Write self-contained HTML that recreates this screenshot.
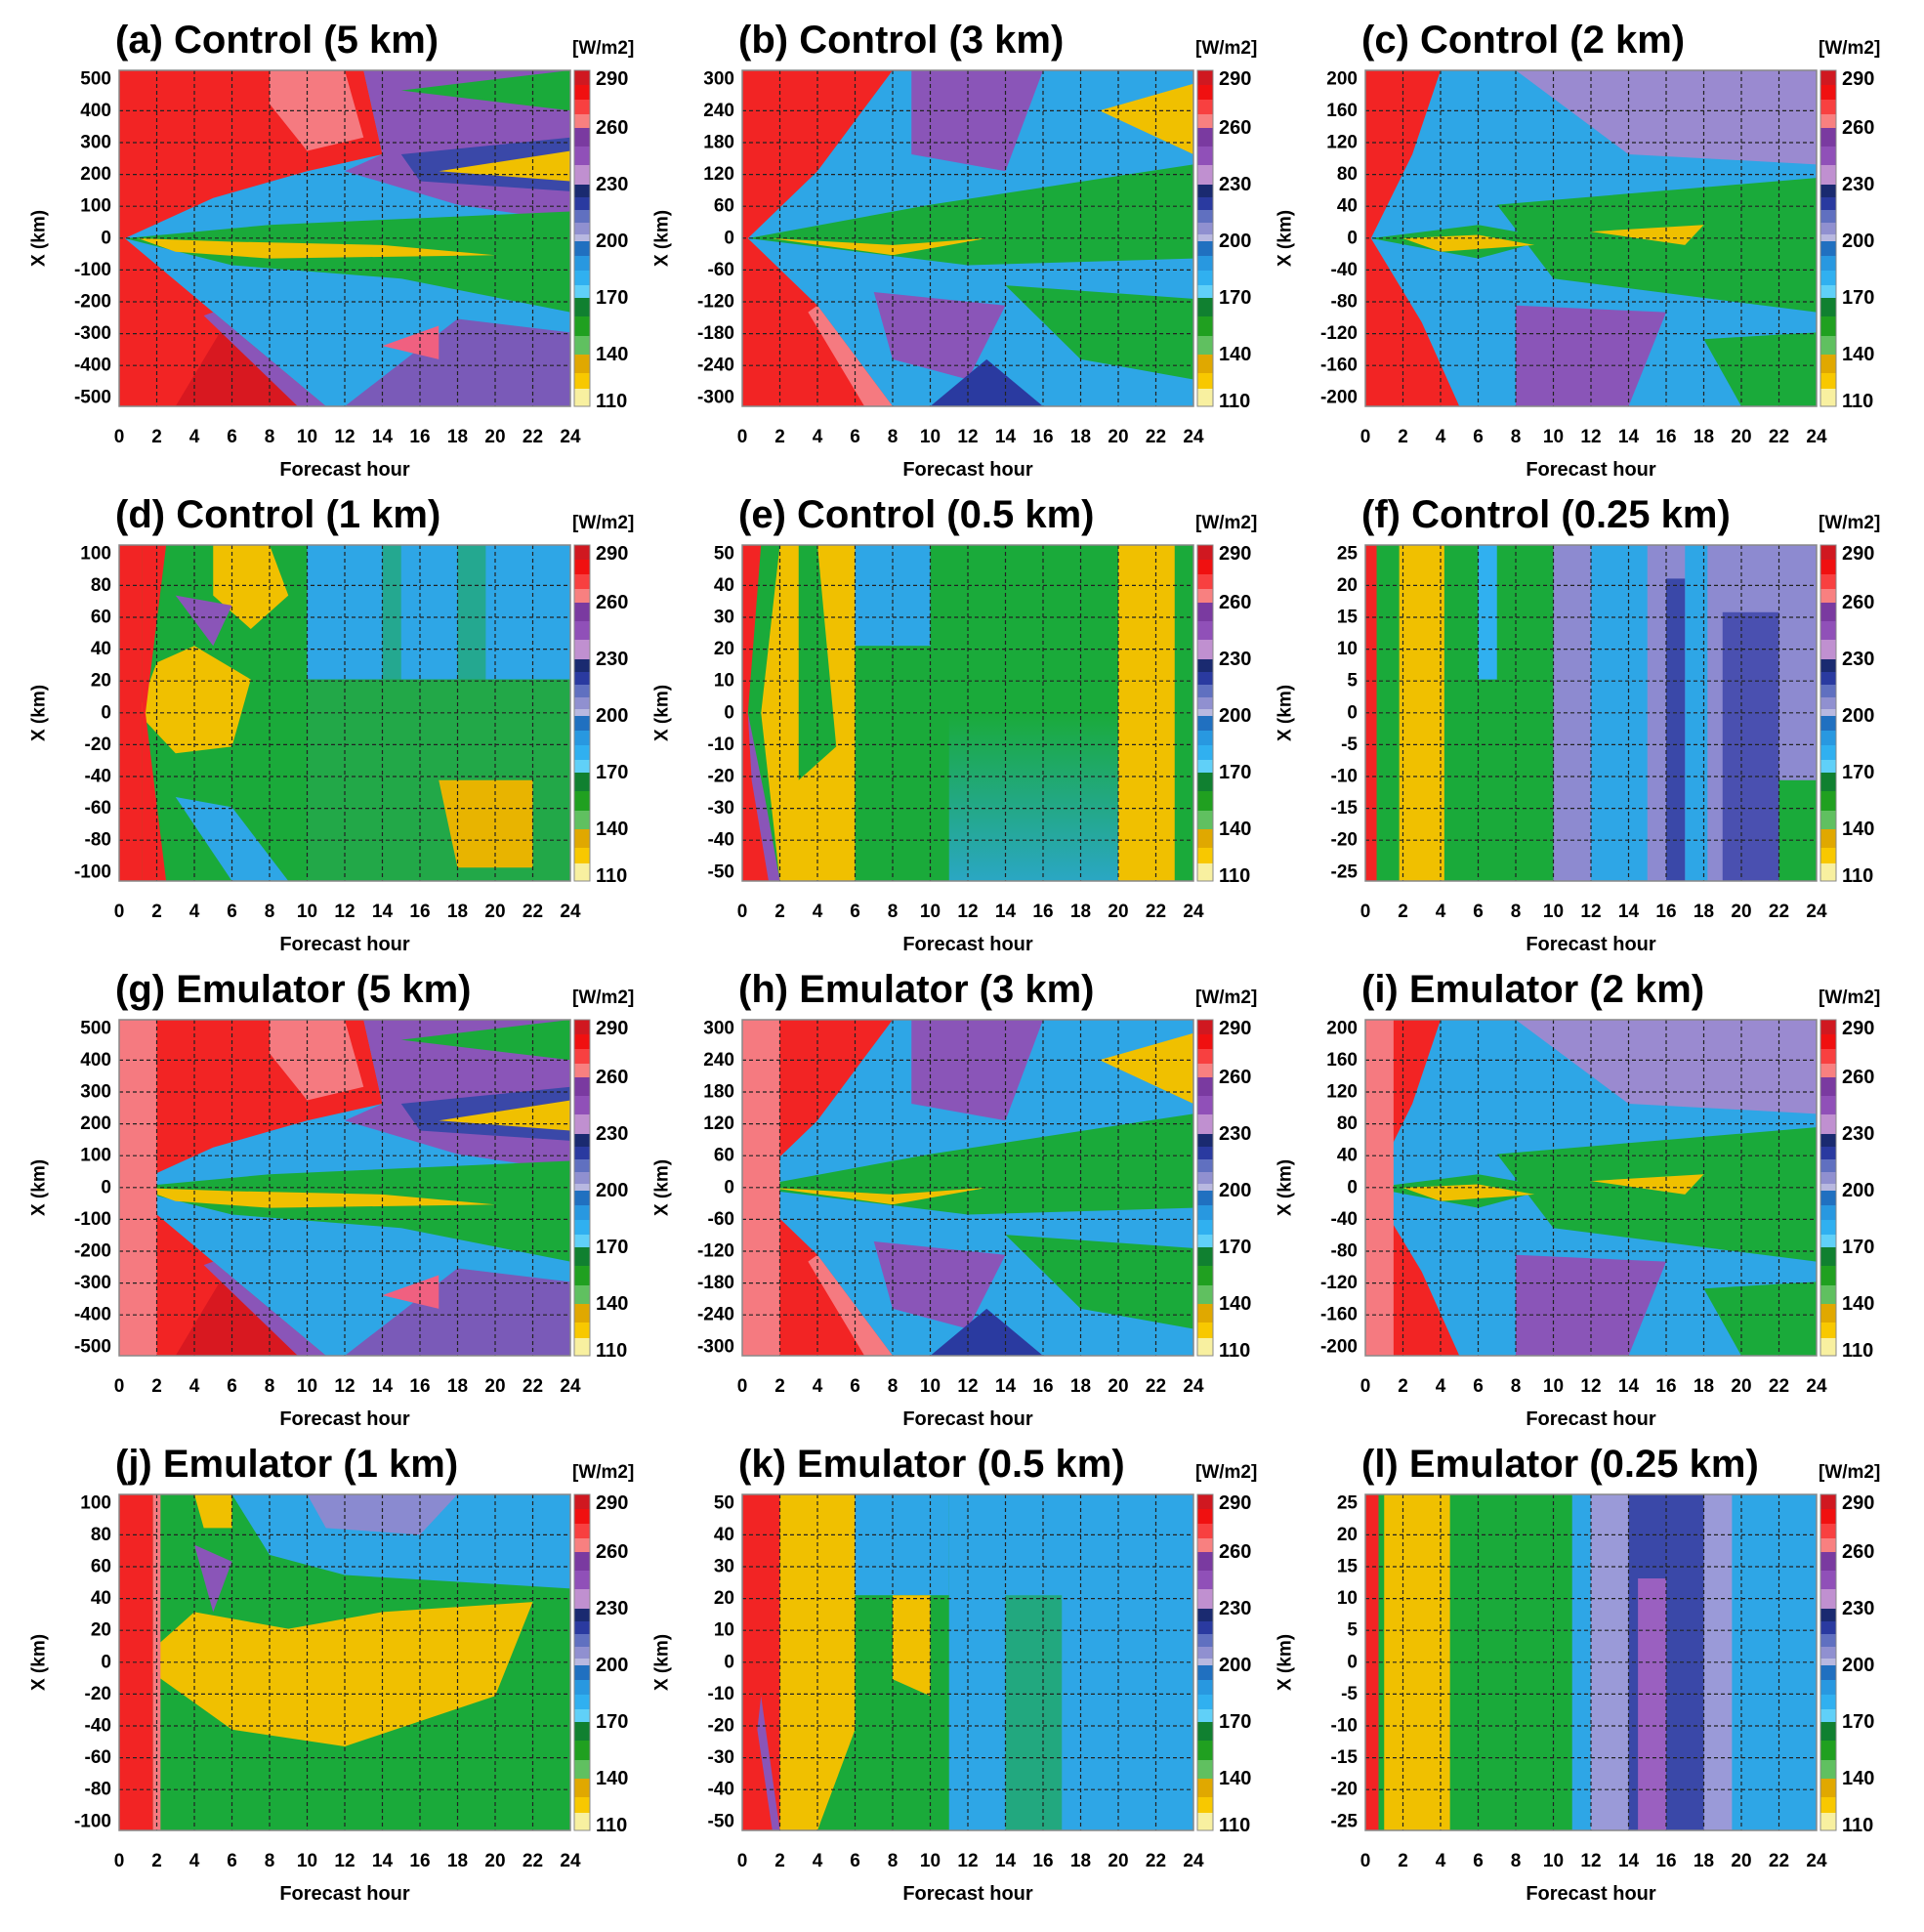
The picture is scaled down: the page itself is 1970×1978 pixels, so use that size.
<!DOCTYPE html>
<html><head><meta charset="utf-8"><style>
html,body{margin:0;padding:0;background:#fff;}
svg{display:block;font-family:"Liberation Sans",Arial,sans-serif;font-weight:bold;}
</style></head><body>
<svg width="1970" height="1978" viewBox="0 0 1970 1978" xmlns="http://www.w3.org/2000/svg">
<defs>
<g id="gr" fill="none">
<g stroke="#222" stroke-width="1.2" stroke-dasharray="4,3">
<path d="M38.5 0V344M77 0V344M115.5 0V344M154 0V344M192.5 0V344M231 0V344M269.5 0V344M308 0V344M346.5 0V344M385 0V344M423.5 0V344"/>
<path d="M0 41.4H462M0 74H462M0 106.6H462M0 139.2H462M0 171.8H462M0 204.4H462M0 237H462M0 269.6H462M0 302.2H462"/>
</g>
<rect x="0" y="0" width="462" height="344" stroke="#888" stroke-width="1.5"/>
</g>
<g id="cb">
<rect x="466" y="0" width="16" height="15" fill="#d01820"/>
<rect x="466" y="15" width="16" height="15" fill="#f01010"/>
<rect x="466" y="30" width="16" height="15" fill="#f84040"/>
<rect x="466" y="45" width="16" height="14" fill="#f88080"/>
<rect x="466" y="59" width="16" height="19" fill="#7a3aa0"/>
<rect x="466" y="78" width="16" height="19" fill="#9050b8"/>
<rect x="466" y="97" width="16" height="20" fill="#c090d0"/>
<rect x="466" y="117" width="16" height="13" fill="#1a2a70"/>
<rect x="466" y="130" width="16" height="13" fill="#2a3aa0"/>
<rect x="466" y="143" width="16" height="13" fill="#6070c0"/>
<rect x="466" y="156" width="16" height="12" fill="#9090d0"/>
<rect x="466" y="168" width="16" height="7" fill="#b8b8e0"/>
<rect x="466" y="175" width="16" height="15" fill="#2070c0"/>
<rect x="466" y="190" width="16" height="15" fill="#2898e0"/>
<rect x="466" y="205" width="16" height="15" fill="#30b0f0"/>
<rect x="466" y="220" width="16" height="13" fill="#60d0f8"/>
<rect x="466" y="233" width="16" height="19" fill="#108030"/>
<rect x="466" y="252" width="16" height="20" fill="#20a020"/>
<rect x="466" y="272" width="16" height="19" fill="#60c060"/>
<rect x="466" y="291" width="16" height="19" fill="#e0a800"/>
<rect x="466" y="310" width="16" height="16" fill="#f8c800"/>
<rect x="466" y="326" width="16" height="18" fill="#f8f0a0"/>
<rect x="466" y="0" width="16" height="344" fill="none" stroke="#888" stroke-width="1"/>
<g font-size="20" dominant-baseline="central">
<text x="488" y="9">290</text><text x="488" y="59">260</text><text x="488" y="117">230</text><text x="488" y="175">200</text><text x="488" y="233">170</text><text x="488" y="291">140</text><text x="488" y="339">110</text>
</g>
<text x="464" y="-17" font-size="19">[W/m2]</text>
</g>
<g id="xa" font-size="19" text-anchor="middle">
<text y="381"><tspan x="0">0</tspan><tspan x="38.5">2</tspan><tspan x="77">4</tspan><tspan x="115.5">6</tspan><tspan x="154">8</tspan><tspan x="192.5">10</tspan><tspan x="231">12</tspan><tspan x="269.5">14</tspan><tspan x="308">16</tspan><tspan x="346.5">18</tspan><tspan x="385">20</tspan><tspan x="423.5">22</tspan><tspan x="462">24</tspan></text>
<text x="231" y="415" font-size="20">Forecast hour</text>
<text transform="translate(-82,172) rotate(-90)" font-size="19" dominant-baseline="central">X (km)</text>
</g>
<g id="yA" font-size="19" text-anchor="end" dominant-baseline="central"><text x="-8" y="8.8">500</text><text x="-8" y="41.4">400</text><text x="-8" y="74">300</text><text x="-8" y="106.6">200</text><text x="-8" y="139.2">100</text><text x="-8" y="171.8">0</text><text x="-8" y="204.4">-100</text><text x="-8" y="237">-200</text><text x="-8" y="269.6">-300</text><text x="-8" y="302.2">-400</text><text x="-8" y="334.8">-500</text></g>
<g id="yB" font-size="19" text-anchor="end" dominant-baseline="central"><text x="-8" y="8.8">300</text><text x="-8" y="41.4">240</text><text x="-8" y="74">180</text><text x="-8" y="106.6">120</text><text x="-8" y="139.2">60</text><text x="-8" y="171.8">0</text><text x="-8" y="204.4">-60</text><text x="-8" y="237">-120</text><text x="-8" y="269.6">-180</text><text x="-8" y="302.2">-240</text><text x="-8" y="334.8">-300</text></g>
<g id="yC" font-size="19" text-anchor="end" dominant-baseline="central"><text x="-8" y="8.8">200</text><text x="-8" y="41.4">160</text><text x="-8" y="74">120</text><text x="-8" y="106.6">80</text><text x="-8" y="139.2">40</text><text x="-8" y="171.8">0</text><text x="-8" y="204.4">-40</text><text x="-8" y="237">-80</text><text x="-8" y="269.6">-120</text><text x="-8" y="302.2">-160</text><text x="-8" y="334.8">-200</text></g>
<g id="yD" font-size="19" text-anchor="end" dominant-baseline="central"><text x="-8" y="8.8">100</text><text x="-8" y="41.4">80</text><text x="-8" y="74">60</text><text x="-8" y="106.6">40</text><text x="-8" y="139.2">20</text><text x="-8" y="171.8">0</text><text x="-8" y="204.4">-20</text><text x="-8" y="237">-40</text><text x="-8" y="269.6">-60</text><text x="-8" y="302.2">-80</text><text x="-8" y="334.8">-100</text></g>
<g id="yE" font-size="19" text-anchor="end" dominant-baseline="central"><text x="-8" y="8.8">50</text><text x="-8" y="41.4">40</text><text x="-8" y="74">30</text><text x="-8" y="106.6">20</text><text x="-8" y="139.2">10</text><text x="-8" y="171.8">0</text><text x="-8" y="204.4">-10</text><text x="-8" y="237">-20</text><text x="-8" y="269.6">-30</text><text x="-8" y="302.2">-40</text><text x="-8" y="334.8">-50</text></g>
<g id="yF" font-size="19" text-anchor="end" dominant-baseline="central"><text x="-8" y="8.8">25</text><text x="-8" y="41.4">20</text><text x="-8" y="74">15</text><text x="-8" y="106.6">10</text><text x="-8" y="139.2">5</text><text x="-8" y="171.8">0</text><text x="-8" y="204.4">-5</text><text x="-8" y="237">-10</text><text x="-8" y="269.6">-15</text><text x="-8" y="302.2">-20</text><text x="-8" y="334.8">-25</text></g>

<g id="hA">
<rect width="24" height="100" fill="#f22424"/>
<polygon points="3,100 6,72 10,100" fill="#d81820"/>
<polygon points="8,0 12,0 13,20 10,24 8,10" fill="#f57a80"/>
<polygon points="0.3,50 5,38 10,30 14,25 13,0 24,0 24,100 11,100 5,72" fill="#2ea6e6"/>
<polygon points="13,0 24,0 24,45 18,40 12,30 14,25" fill="#8a55b8"/>
<polygon points="15,25 24,20 24,36 16,33" fill="#3a48a8"/>
<polygon points="0.3,50 8,46 24,42 24,72 15,62 6,58" fill="#1aaa3a"/>
<polygon points="1,50 6,51 14,52 20,55 8,56 3,54" fill="#f0c000"/>
<polygon points="17,30 24,24 24,33" fill="#f0c000"/>
<polygon points="15,6 24,0 24,12" fill="#1aaa3a"/>
<polygon points="12,100 24,100 24,78 18,74" fill="#7a5ab8"/>
<polygon points="14,82 17,76 17,86" fill="#f06080"/>
<polygon points="5,72 11,100 9.5,100 4.5,73" fill="#8a55b8"/>
</g>
<g id="hB">
<rect width="24" height="100" fill="#f22424"/>
<polygon points="0.3,50 4,30 8,0 24,0 24,100 8,100 4,70" fill="#2ea6e6"/>
<polygon points="9,0 16,0 14,30 9,25" fill="#8a55b8"/>
<polygon points="0.3,50 10,40 24,28 24,56 12,58" fill="#1aaa3a"/>
<polygon points="1.5,50 8,52 13,50 8,55" fill="#f0c000"/>
<polygon points="19,12 24,4 24,25" fill="#f0c000"/>
<polygon points="14,64 24,68 24,92 18,86" fill="#1aaa3a"/>
<polygon points="7,66 14,70 12,92 8,86" fill="#8a55b8"/>
<polygon points="10,100 16,100 13,86" fill="#2a3aa0"/>
<polygon points="4,70 8,100 6.5,100 3.5,72" fill="#f57a80"/>
</g>
<g id="hC">
<rect width="24" height="100" fill="#f22424"/>
<polygon points="0.3,50 2.5,25 4,0 24,0 24,100 5,100 3,75" fill="#2ea6e6"/>
<polygon points="8,0 24,0 24,28 14,25" fill="#9a8ad0"/>
<polygon points="7,40 24,32 24,72 10,62" fill="#1aaa3a"/>
<polygon points="0.3,50 6,46 10,50 6,56" fill="#1aaa3a"/>
<polygon points="2,50 6,49 9,52 4,54" fill="#f0c000"/>
<polygon points="12,48 18,46 17,52" fill="#f0c000"/>
<polygon points="8,70 16,72 14,100 8,100" fill="#8a55b8"/>
<polygon points="18,80 24,78 24,100 20,100" fill="#1aaa3a"/>
</g>
<g id="hD">
<rect width="24" height="100" fill="#1aaa3a"/>
<rect x="10" y="0" width="14" height="40" fill="#2ea6e6"/>
<rect x="10" y="40" width="14" height="60" fill="#22a848"/>
<rect x="14" y="0" width="1" height="40" fill="#1aaa3a" opacity="0.5"/>
<rect x="18" y="0" width="1.5" height="40" fill="#1aaa3a" opacity="0.5"/>
<polygon points="1,50 2,35 4,30 7,40 6,60 3,62" fill="#f0c000"/>
<polygon points="5,0 8,0 9,15 7,25 5,15" fill="#f0c000"/>
<polygon points="17,70 22,70 22,96 18,96" fill="#e8b400"/>
<polygon points="3,75 6,100 9,100 6,78" fill="#2ea6e6"/>
<polygon points="3,15 6,18 5,30" fill="#8a55b8"/>
<rect x="0" y="0" width="1.2" height="100" fill="#f22424"/>
<polygon points="1.2,0 2.5,0 1.4,50 2.5,100 1.2,100" fill="#f22424"/>
</g>
<linearGradient id="gE" x1="0" y1="0" x2="0" y2="1"><stop offset="0" stop-color="#1aaa3a"/><stop offset="1" stop-color="#2ea6e6"/></linearGradient>
<g id="hE">
<rect width="24" height="100" fill="#1aaa3a"/>
<polygon points="1,50 2,0 6,0 6,100 2,100" fill="#f0c000"/>
<polygon points="3,0 4,0 5,60 3,70" fill="#1aaa3a"/>
<rect x="6" y="0" width="4" height="30" fill="#2ea6e6"/>
<rect x="11" y="50" width="9" height="50" fill="url(#gE)" opacity="0.8"/>
<rect x="20" y="0" width="3" height="100" fill="#f0c000"/>
<polygon points="0,0 1,0 0.3,50 2,100 0,100" fill="#f22424"/>
<polygon points="0.3,50 1.2,75 2,100 1.4,100 0.5,70" fill="#8a55b8"/>
</g>
<g id="hF">
<rect width="24" height="100" fill="#2ea6e6"/>
<rect x="10" y="0" width="14" height="100" fill="#8d8ad0"/>
<rect x="12" y="0" width="3" height="100" fill="#2ea6e6"/>
<rect x="17" y="0" width="1.2" height="100" fill="#2ea6e6"/>
<rect x="16" y="10" width="1" height="90" fill="#3a48a8"/>
<rect x="19" y="20" width="3" height="80" fill="#4a50b0"/>
<rect x="22" y="70" width="2" height="30" fill="#1aaa3a"/>
<rect x="0" y="0" width="10" height="100" fill="#1aaa3a"/>
<rect x="1.8" y="0" width="2.4" height="100" fill="#f0c000"/>
<rect x="6" y="0" width="1" height="40" fill="#30b0f0"/>
<rect x="0" y="0" width="0.6" height="100" fill="#f22424"/>
</g>
<g id="hJ">
<rect width="24" height="100" fill="#1aaa3a"/>
<polygon points="6,0 24,0 24,28 12,24 8,18" fill="#2ea6e6"/>
<polygon points="10,0 18,0 16,12 11,10" fill="#8a8ad0"/>
<polygon points="1,50 4,35 9,40 14,35 22,32 20,60 12,75 6,70" fill="#f0c000"/>
<polygon points="4,0 6,0 6,10 4.5,10" fill="#f0c000"/>
<polygon points="4,15 6,20 5,35" fill="#8a55b8"/>
<rect x="0" y="0" width="1.8" height="100" fill="#f22424"/>
<rect x="1.8" y="0" width="0.4" height="100" fill="#f57a80"/>
</g>
<g id="hK">
<rect width="24" height="100" fill="#1aaa3a"/>
<rect x="11" y="0" width="13" height="100" fill="#2ea6e6"/>
<rect x="14" y="30" width="3" height="70" fill="#1aaa3a" opacity="0.6"/>
<rect x="6" y="0" width="5" height="30" fill="#2ea6e6"/>
<polygon points="1.5,50 2,0 6,0 6,70 4,100 2,100" fill="#f0c000"/>
<polygon points="8,30 10,30 10,60 8,55" fill="#f0c000"/>
<rect x="0" y="0" width="2" height="100" fill="#f22424"/>
<polygon points="1,60 2,100 1.6,100 0.8,70" fill="#8a55b8"/>
</g>
<g id="hL">
<rect width="24" height="100" fill="#2ea6e6"/>
<rect x="14" y="0" width="4" height="100" fill="#3a48a8"/>
<rect x="14.5" y="25" width="1.5" height="75" fill="#9a60c0"/>
<rect x="12" y="0" width="2" height="100" fill="#9a9ad8"/>
<rect x="18" y="0" width="1.5" height="100" fill="#9a9ad8"/>
<rect x="0" y="0" width="11" height="100" fill="#1aaa3a"/>
<rect x="1" y="0" width="3.5" height="100" fill="#f0c000"/>
<rect x="0" y="0" width="0.7" height="100" fill="#f22424"/>
</g>
</defs>

<!-- Row 1 -->
<g transform="translate(122,72)">
<svg width="462" height="344" viewBox="0 0 24 100" preserveAspectRatio="none"><use href="#hA"/></svg>
<use href="#gr"/><use href="#cb"/><use href="#xa"/><use href="#yA"/>
<text x="-4" y="-18" font-size="40">(a) Control (5 km)</text>
</g>
<g transform="translate(760,72)">
<svg width="462" height="344" viewBox="0 0 24 100" preserveAspectRatio="none"><use href="#hB"/></svg>
<use href="#gr"/><use href="#cb"/><use href="#xa"/><use href="#yB"/>
<text x="-4" y="-18" font-size="40">(b) Control (3 km)</text>
</g>
<g transform="translate(1398,72)">
<svg width="462" height="344" viewBox="0 0 24 100" preserveAspectRatio="none"><use href="#hC"/></svg>
<use href="#gr"/><use href="#cb"/><use href="#xa"/><use href="#yC"/>
<text x="-4" y="-18" font-size="40">(c) Control (2 km)</text>
</g>
<!-- Row 2 -->
<g transform="translate(122,558)">
<svg width="462" height="344" viewBox="0 0 24 100" preserveAspectRatio="none"><use href="#hD"/></svg>
<use href="#gr"/><use href="#cb"/><use href="#xa"/><use href="#yD"/>
<text x="-4" y="-18" font-size="40">(d) Control (1 km)</text>
</g>
<g transform="translate(760,558)">
<svg width="462" height="344" viewBox="0 0 24 100" preserveAspectRatio="none"><use href="#hE"/></svg>
<use href="#gr"/><use href="#cb"/><use href="#xa"/><use href="#yE"/>
<text x="-4" y="-18" font-size="40">(e) Control (0.5 km)</text>
</g>
<g transform="translate(1398,558)">
<svg width="462" height="344" viewBox="0 0 24 100" preserveAspectRatio="none"><use href="#hF"/></svg>
<use href="#gr"/><use href="#cb"/><use href="#xa"/><use href="#yF"/>
<text x="-4" y="-18" font-size="40">(f) Control (0.25 km)</text>
</g>
<!-- Row 3 -->
<g transform="translate(122,1044)">
<svg width="462" height="344" viewBox="0 0 24 100" preserveAspectRatio="none"><use href="#hA"/><rect width="2" height="100" fill="#f57a80"/></svg>
<use href="#gr"/><use href="#cb"/><use href="#xa"/><use href="#yA"/>
<text x="-4" y="-18" font-size="40">(g) Emulator (5 km)</text>
</g>
<g transform="translate(760,1044)">
<svg width="462" height="344" viewBox="0 0 24 100" preserveAspectRatio="none"><use href="#hB"/><rect width="2" height="100" fill="#f57a80"/></svg>
<use href="#gr"/><use href="#cb"/><use href="#xa"/><use href="#yB"/>
<text x="-4" y="-18" font-size="40">(h) Emulator (3 km)</text>
</g>
<g transform="translate(1398,1044)">
<svg width="462" height="344" viewBox="0 0 24 100" preserveAspectRatio="none"><use href="#hC"/><rect width="1.5" height="100" fill="#f57a80"/></svg>
<use href="#gr"/><use href="#cb"/><use href="#xa"/><use href="#yC"/>
<text x="-4" y="-18" font-size="40">(i) Emulator (2 km)</text>
</g>
<!-- Row 4 -->
<g transform="translate(122,1530)">
<svg width="462" height="344" viewBox="0 0 24 100" preserveAspectRatio="none"><use href="#hJ"/></svg>
<use href="#gr"/><use href="#cb"/><use href="#xa"/><use href="#yD"/>
<text x="-4" y="-18" font-size="40">(j) Emulator (1 km)</text>
</g>
<g transform="translate(760,1530)">
<svg width="462" height="344" viewBox="0 0 24 100" preserveAspectRatio="none"><use href="#hK"/></svg>
<use href="#gr"/><use href="#cb"/><use href="#xa"/><use href="#yE"/>
<text x="-4" y="-18" font-size="40">(k) Emulator (0.5 km)</text>
</g>
<g transform="translate(1398,1530)">
<svg width="462" height="344" viewBox="0 0 24 100" preserveAspectRatio="none"><use href="#hL"/></svg>
<use href="#gr"/><use href="#cb"/><use href="#xa"/><use href="#yF"/>
<text x="-4" y="-18" font-size="40">(l) Emulator (0.25 km)</text>
</g>
</svg>
</body></html>
